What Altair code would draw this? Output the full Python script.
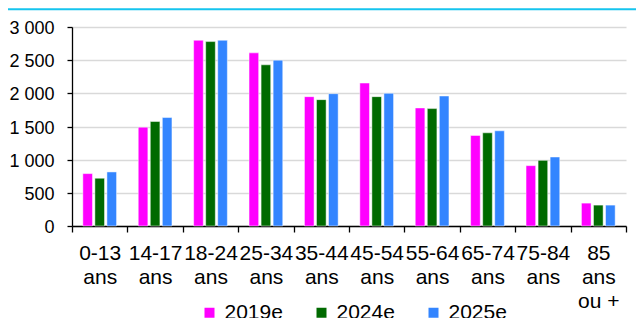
import altair as alt
import pandas as pd

categories = ["0-13\nans", "14-17\nans", "18-24\nans", "25-34\nans", "35-44\nans",
              "45-54\nans", "55-64\nans", "65-74\nans", "75-84\nans", "85\nans\nou +"]
series = ["2019e", "2024e", "2025e"]
v2019 = [790, 1490, 2800, 2610, 1950, 2155, 1780, 1365, 910, 345]
v2024 = [720, 1575, 2780, 2430, 1905, 1950, 1770, 1405, 990, 315]
v2025 = [815, 1635, 2800, 2500, 1995, 2000, 1960, 1435, 1040, 315]
colors = ["#FF00FF", "#006A00", "#3385FF"]
y_ticks = [0, 500, 1000, 1500, 2000, 2500, 3000]

rows = []
for s, vals in zip(series, [v2019, v2024, v2025]):
    for c, v in zip(categories, vals):
        rows.append({"cat": c, "serie": s, "val": v})
df = pd.DataFrame(rows)

FONT = "Arial"

bars = alt.Chart(df).mark_bar(stroke="white", strokeWidth=0.8, strokeOpacity=0.6).encode(
    x=alt.X("cat:N", sort=categories, title=None,
            scale=alt.Scale(paddingInner=0, paddingOuter=0),
            axis=alt.Axis(labelAngle=0, labelExpr="split(datum.label, '\\n')",
                          tickBand="extent", grid=False, domainColor="black",
                          domainWidth=1.3, tickColor="black", tickWidth=1.3,
                          tickSize=6, labelPadding=10, labelLineHeight=24,
                          labelFontSize=21, labelFont=FONT, labelColor="black")),
    xOffset=alt.XOffset("serie:N", sort=series,
                        scale=alt.Scale(paddingInner=0.2, paddingOuter=0.9)),
    y=alt.Y("val:Q", title=None,
            scale=alt.Scale(domain=[0, 3000], nice=False),
            axis=alt.Axis(values=y_ticks,
                          labelExpr="replace(format(datum.value, ','), ',', ' ')",
                          grid=True, gridColor="#D9D9D9", gridWidth=1.3,
                          domainColor="black", domainWidth=1.3, tickColor="black",
                          tickWidth=1.3, tickSize=5, labelPadding=13,
                          labelFontSize=18, labelFont=FONT, labelColor="black",
                          labelOffset=1.5)),
    color=alt.Color("serie:N", sort=series,
                    scale=alt.Scale(domain=series, range=colors),
                    legend=alt.Legend(title=None, orient="none", direction="horizontal",
                                      legendX=127, legendY=275, symbolType="square",
                                      symbolSize=100, symbolStrokeWidth=0,
                                      labelFontSize=21, labelFont=FONT,
                                      labelColor="black", labelOffset=4.5,
                                      columnPadding=28, padding=0)),
)

topline = alt.Chart(alt.Data(values=[{"a": 1}])).mark_rule(
    color="#16C4EE", strokeWidth=2).encode(
    x=alt.value(-64), x2=alt.value(564), y=alt.value(-17.7))

chart = alt.layer(topline, bars).properties(
    width=554, height=199,
    autosize=alt.AutoSizeParams(type="none"),
    padding={"left": 64, "top": 19, "right": 10, "bottom": 92},
).configure_view(stroke=None)

chart.save("out.html", embed_options={"renderer": "svg", "actions": False})
